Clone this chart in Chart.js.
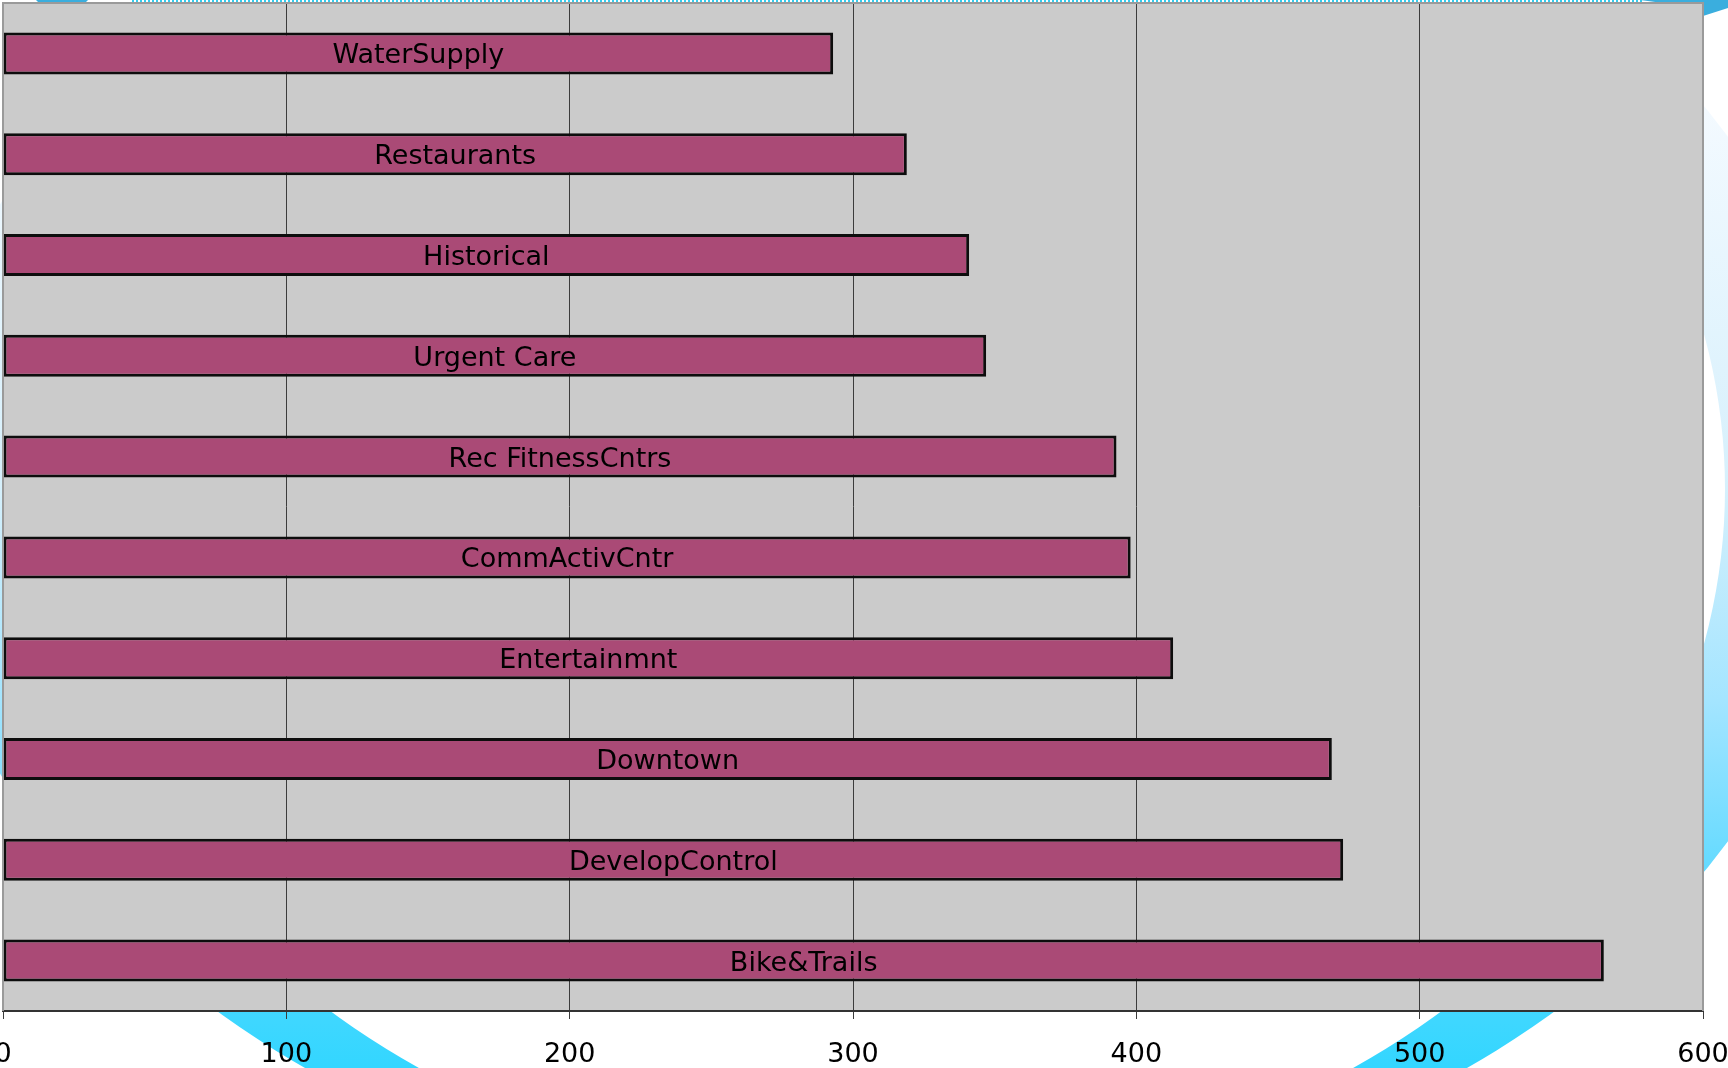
<!DOCTYPE html>
<html>
<head>
<meta charset="utf-8">
<title>Bar chart</title>
<script src="https://cdn.jsdelivr.net/npm/chart.js@4.4.1/dist/chart.umd.min.js"></script>
<style>
  html, body { margin: 0; padding: 0; background: #ffffff; overflow: hidden; }
  #wrap { width: 1728px; height: 1068px; position: relative; }
</style>
</head>
<body>
<div id="wrap"><canvas id="barChart" width="1728" height="1068"></canvas></div>
<script>
// categories, top to bottom
var categories = ['WaterSupply', 'Restaurants', 'Historical', 'Urgent Care', 'Rec FitnessCntrs',
                  'CommActivCntr', 'Entertainmnt', 'Downtown', 'DevelopControl', 'Bike&Trails'];
var counts = [293, 319, 341, 347, 393, 398, 413, 469, 473, 565];

// value axis
var axisMin = 0;
var axisMax = 600;
var tickStep = 100;

var FONT = '"DejaVu Sans", Verdana, sans-serif';

// white page with the big blue ring behind the plot
var backdrop = {
    id: 'backdrop',
    beforeDraw: function (chart) {
        var ctx = chart.ctx;
        var area = chart.chartArea;
        ctx.save();
        ctx.fillStyle = '#ffffff';
        ctx.fillRect(0, 0, chart.width, chart.height);

        // ring between two ellipses, pale at the top and cyan at the bottom
        ctx.save();
        ctx.beginPath();
        ctx.rect(0, 4, chart.width, chart.height);
        ctx.clip();
        var grad = ctx.createLinearGradient(0, 100, 0, 1068);
        grad.addColorStop(0, '#f4faff');
        grad.addColorStop(0.4, '#d6f0fc');
        grad.addColorStop(0.62, '#a4e5ff');
        grad.addColorStop(0.8, '#62daff');
        grad.addColorStop(1, '#33d6ff');
        ctx.fillStyle = grad;
        ctx.beginPath();
        ctx.ellipse(886, 489, 963, 726, 0, 0, Math.PI * 2);
        ctx.ellipse(886, 489, 839, 697, 0, 0, Math.PI * 2, true);
        ctx.fill('evenodd');
        ctx.restore();

        // bits of the top swoosh
        ctx.fillStyle = '#3aaede';
        ctx.beginPath();
        ctx.moveTo(36, 0);
        ctx.lineTo(88, 0);
        ctx.lineTo(84, 4);
        ctx.lineTo(40, 4);
        ctx.closePath();
        ctx.fill();
        ctx.beginPath();
        ctx.moveTo(1640, 0);
        ctx.quadraticCurveTo(1680, 4, 1703, 16);
        ctx.lineTo(1728, 8);
        ctx.lineTo(1728, 0);
        ctx.closePath();
        ctx.fill();
        ctx.strokeStyle = '#33ccee';
        ctx.lineWidth = 2;
        ctx.setLineDash([2, 2]);
        ctx.beginPath();
        ctx.moveTo(132, 1);
        ctx.lineTo(1642, 1);
        ctx.stroke();
        ctx.setLineDash([]);

        // plot area
        ctx.fillStyle = '#cbcbcb';
        ctx.fillRect(area.left, area.top, area.right - area.left, area.bottom - area.top);
        ctx.restore();
    },
    afterDatasetsDraw: function (chart) {
        var ctx = chart.ctx;
        var area = chart.chartArea;
        var meta = chart.getDatasetMeta(0);
        ctx.save();

        // category names inside the bars
        ctx.font = '27px ' + FONT;
        ctx.fillStyle = '#000000';
        ctx.textAlign = 'center';
        ctx.textBaseline = 'alphabetic';
        meta.data.forEach(function (bar, i) {
            ctx.fillText(categories[i], (bar.base + bar.x) / 2, bar.y + 10);
        });

        // grey frame on left, top and right
        ctx.strokeStyle = '#9a9a9a';
        ctx.lineWidth = 2;
        ctx.beginPath();
        ctx.moveTo(area.left, area.bottom);
        ctx.lineTo(area.left, area.top);
        ctx.lineTo(area.right, area.top);
        ctx.lineTo(area.right, area.bottom);
        ctx.stroke();
        ctx.restore();
    }
};

var ctx = document.getElementById('barChart').getContext('2d');
var barChart = new Chart(ctx, {
    type: 'bar',
    data: {
        labels: categories,
        datasets: [{
            data: counts,
            backgroundColor: '#aa4a76',
            borderColor: '#0d0d0d',
            borderWidth: 3,
            borderSkipped: false,
            barPercentage: 0.417,
            categoryPercentage: 1
        }]
    },
    options: {
        indexAxis: 'y',
        responsive: false,
        animation: false,
        devicePixelRatio: 1,
        layout: { padding: { left: 3, right: 25, top: 3, bottom: 0 } },
        plugins: {
            legend: { display: false },
            tooltip: { enabled: false }
        },
        scales: {
            y: { display: false },
            x: {
                position: 'bottom',
                min: axisMin,
                max: axisMax,
                ticks: {
                    stepSize: tickStep,
                    color: '#000000',
                    padding: 20,
                    maxRotation: 0,
                    autoSkip: false,
                    font: { family: FONT, size: 27 }
                },
                grid: {
                    color: '#3c3c3c',
                    lineWidth: 1,
                    tickLength: 8,
                    tickColor: '#3c3c3c'
                },
                border: { color: '#333333', width: 2 },
                afterFit: function (scale) {
                    scale.height = 57;
                    scale.paddingLeft = 0;
                    scale.paddingRight = 0;
                }
            }
        }
    },
    plugins: [backdrop]
});
</script>
</body>
</html>
